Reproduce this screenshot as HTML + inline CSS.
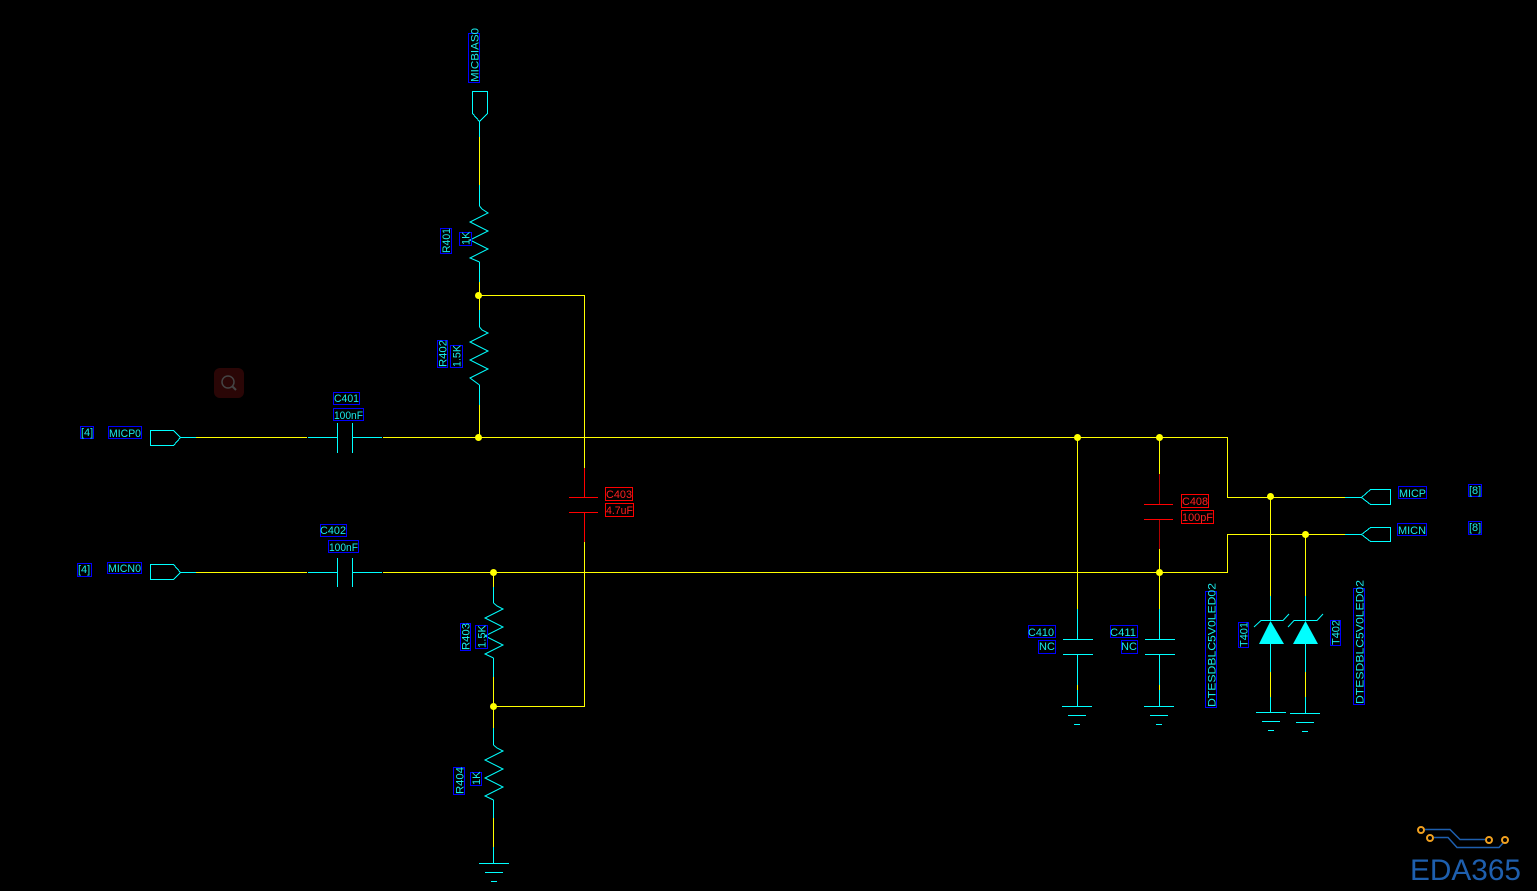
<!DOCTYPE html>
<html><head><meta charset="utf-8"><style>
html,body{margin:0;padding:0;background:#000;}
svg{display:block;}
text{font-family:"Liberation Sans",sans-serif;}
</style></head><body>
<svg width="1537" height="891" viewBox="0 0 1537 891" xmlns="http://www.w3.org/2000/svg">
<rect width="1537" height="891" fill="#000"/>
<g shape-rendering="crispEdges" fill="none" stroke-width="1">
<!-- yellow wires -->
<g stroke="#ffff00">
<path d="M479.5 137V185"/>
<path d="M479.5 282V310"/>
<path d="M479.5 405V437"/>
<path d="M478.5 295.5H584.5V468"/>
<path d="M584.5 542V706.5H493"/>
<path d="M196 437.5H307"/>
<path d="M383 437.5H1227.5V497.5H1345"/>
<path d="M196 572.5H307"/>
<path d="M383 572.5H1227.5V534.5H1345"/>
<path d="M1077.5 437V609"/>
<path d="M1159.5 437V474"/>
<path d="M1159.5 549V609"/>
<path d="M1077.5 685V690"/>
<path d="M1159.5 685V690"/>
<path d="M1270.5 497V596"/>
<path d="M1305.5 534V596"/>
<path d="M1270.5 672V697"/>
<path d="M1305.5 672V697"/>
<path d="M493.5 572V587"/>
<path d="M493.5 677V706"/>
<path d="M493.5 706V728"/>
<path d="M493.5 818V847"/>
</g>
<!-- cyan leads -->
<g stroke="#00ffff">
<path d="M479.5 121V137"/>
<path d="M479.5 185V206"/>
<path d="M479.5 262V282"/>
<path d="M479.5 310V327"/>
<path d="M479.5 385V405"/>
<path d="M180 437.5H196"/>
<path d="M180 572.5H196"/>
<path d="M308 437.5H337.5M337.5 423V453M352.5 423V453M352.5 437.5H382"/>
<path d="M308 572.5H337.5M337.5 558V587M352.5 558V587M352.5 572.5H382"/>
<path d="M1345 497.5H1361"/>
<path d="M1345 534.5H1361"/>
<path d="M1077.5 609V639.5M1063 639.5H1093M1063 654.5H1093M1077.5 654V685M1077.5 690V706.5M1062 706.5H1092M1068 715.5H1086M1074 724.5H1080"/>
<path d="M1159.5 609V639.5M1145 639.5H1175M1145 654.5H1175M1159.5 654V685M1159.5 690V706.5M1144 706.5H1174M1150 715.5H1168M1156 724.5H1162"/>
<path d="M1270.5 596V621M1270.5 644V672M1270.5 697V712.5M1256 712.5H1286M1262 721.5H1280M1268 730.5H1274"/>
<path d="M1305.5 596V621M1305.5 644V672M1305.5 697V713.5M1290 713.5H1320M1296 722.5H1314M1302 731.5H1308"/>
<path d="M493.5 587V603"/>
<path d="M493.5 658V677"/>
<path d="M493.5 728V745"/>
<path d="M493.5 800V818"/>
<path d="M493.5 847V863.5M479 863.5H509M485 872.5H503M491 881.5H497"/>
<!-- ports -->
<path d="M150.5 430.5H173.5L180.5 437.5L173.5 445.5H150.5Z"/>
<path d="M150.5 564.5H173.5L180.5 572.5L173.5 579.5H150.5Z"/>
<path d="M472.5 91.5H487.5V113.5L479.5 121.5L472.5 113.5Z"/>
<path d="M1361.5 497.5L1370.5 489.5H1390.5V504.5H1370.5Z"/>
<path d="M1361.5 534.5L1370.5 527.5H1390.5V541.5H1370.5Z"/>
</g>
</g>
<!-- resistor zigzags -->
<g fill="none" stroke="#00ffff" stroke-width="1">
<polyline points="479.5,206 482,209 488,213 470,222 488,231 470,240 488,249 470,258 479.5,262"/>
<polyline points="479.5,327 482,330 488,333 470,342 488,351 470,360 488,369 470,378 479.5,385"/>
<polyline points="493.5,603 497,606 503,609 485,618 503,627 485,636 503,645 485,654 493.5,658"/>
<polyline points="493.5,745 497,748 503,751 485,760 503,769 485,778 503,787 485,796 493.5,800"/>
<!-- diode bars -->
<polyline points="1254,627 1261,620.5 1283,620.5 1289,614"/>
<polyline points="1288,627 1294,620.5 1317,620.5 1323,614"/>
</g>
<polygon points="1270.5,621 1259,644 1284,644" fill="#00ffff"/>
<polygon points="1305.5,621 1293,644 1318,644" fill="#00ffff"/>
<!-- red caps -->
<g shape-rendering="crispEdges" fill="none">
<path stroke="#ff0000" d="M584.5 468V497.5M569 497.5H598M569 512.5H598M584.5 512V542"/>
<path stroke="#b00000" d="M1159.5 474V504M1159.5 519V549"/>
<path stroke="#ff0000" d="M1144 504.5H1173M1144 519.5H1173"/>
</g>
<!-- junctions -->
<g fill="#ffff00">
<circle cx="478.5" cy="295.5" r="3.5"/>
<circle cx="478.5" cy="437.5" r="3.5"/>
<circle cx="493.5" cy="572.5" r="3.5"/>
<circle cx="493.5" cy="706.5" r="3.5"/>
<circle cx="1077.5" cy="437.5" r="3.5"/>
<circle cx="1159.5" cy="437.5" r="3.5"/>
<circle cx="1159.5" cy="572.5" r="3.5"/>
<circle cx="1270.5" cy="496.5" r="3.5"/>
<circle cx="1305.5" cy="534.5" r="3.5"/>
</g>
<!-- label boxes -->
<g fill="none" stroke="#0000ff" stroke-width="1" shape-rendering="crispEdges">
<rect x="468.5" y="33.5" width="11" height="49"/>
<rect x="440.5" y="228.5" width="11" height="25"/>
<rect x="459.5" y="232.5" width="12" height="13"/>
<rect x="437.5" y="340.5" width="10" height="27"/>
<rect x="450.5" y="345.5" width="12" height="22"/>
<rect x="460.5" y="623.5" width="10" height="27"/>
<rect x="475.5" y="625.5" width="12" height="23"/>
<rect x="453.5" y="767.5" width="11" height="27"/>
<rect x="470.5" y="772.5" width="11" height="13"/>
<rect x="80.5" y="426.5" width="13" height="12"/>
<rect x="108.5" y="426.5" width="33" height="12"/>
<rect x="77.5" y="563.5" width="14" height="13"/>
<rect x="107.5" y="562.5" width="34" height="11"/>
<rect x="333.5" y="392.5" width="26" height="12"/>
<rect x="333.5" y="408.5" width="30" height="12"/>
<rect x="320.5" y="524.5" width="26" height="12"/>
<rect x="328.5" y="540.5" width="30" height="12"/>
<rect x="1028.5" y="625.5" width="27" height="12"/>
<rect x="1038.5" y="640.5" width="17" height="13"/>
<rect x="1110.5" y="625.5" width="27" height="12"/>
<rect x="1121.5" y="640.5" width="16" height="13"/>
<rect x="1205.5" y="591.5" width="11" height="116"/>
<rect x="1238.5" y="622.5" width="10" height="25"/>
<rect x="1330.5" y="620.5" width="10" height="25"/>
<rect x="1353.5" y="588.5" width="11" height="116"/>
<rect x="1398.5" y="486.5" width="28" height="12"/>
<rect x="1468.5" y="484.5" width="13" height="12"/>
<rect x="1397.5" y="523.5" width="29" height="12"/>
<rect x="1468.5" y="521.5" width="13" height="13"/>
</g>
<g fill="none" stroke="#ff0000" stroke-width="1" shape-rendering="crispEdges">
<rect x="605.5" y="487.5" width="27" height="13"/>
<rect x="605.5" y="503.5" width="28" height="13"/>
<rect x="1181.5" y="494.5" width="27" height="13"/>
<rect x="1181.5" y="510.5" width="32" height="13"/>
</g>
<!-- texts -->
<g fill="#19eaea" font-size="11">
<text transform="translate(478.5,82) rotate(-90)" textLength="54" lengthAdjust="spacingAndGlyphs">MICBIAS0</text>
<text transform="translate(450,253) rotate(-90)" textLength="25" lengthAdjust="spacingAndGlyphs">R401</text>
<text transform="translate(469.5,245) rotate(-90)">1K</text>
<text transform="translate(446.5,367) rotate(-90)" textLength="27" lengthAdjust="spacingAndGlyphs">R402</text>
<text transform="translate(460.5,367) rotate(-90)" textLength="22" lengthAdjust="spacingAndGlyphs">1.5K</text>
<text transform="translate(469.5,650) rotate(-90)" textLength="27" lengthAdjust="spacingAndGlyphs">R403</text>
<text transform="translate(485.5,648) rotate(-90)" textLength="23" lengthAdjust="spacingAndGlyphs">1.5K</text>
<text transform="translate(463.5,794) rotate(-90)" textLength="27" lengthAdjust="spacingAndGlyphs">R404</text>
<text transform="translate(480,785) rotate(-90)">1K</text>
<text x="81" y="436">[4]</text>
<text x="109" y="437" textLength="32" lengthAdjust="spacingAndGlyphs">MICP0</text>
<text x="78" y="573">[4]</text>
<text x="108" y="572" textLength="33" lengthAdjust="spacingAndGlyphs">MICN0</text>
<text x="334" y="402" textLength="25" lengthAdjust="spacingAndGlyphs">C401</text>
<text x="334" y="419" textLength="29" lengthAdjust="spacingAndGlyphs">100nF</text>
<text x="320" y="534" textLength="26" lengthAdjust="spacingAndGlyphs">C402</text>
<text x="329" y="551" textLength="29" lengthAdjust="spacingAndGlyphs">100nF</text>
<text x="1028" y="636" textLength="26" lengthAdjust="spacingAndGlyphs">C410</text>
<text x="1039" y="650">NC</text>
<text x="1110" y="636" textLength="26" lengthAdjust="spacingAndGlyphs">C411</text>
<text x="1121" y="650">NC</text>
<text transform="translate(1215.5,707) rotate(-90)" textLength="124" lengthAdjust="spacingAndGlyphs">DTESDBLC5V0LED02</text>
<text transform="translate(1247.5,647) rotate(-90)" textLength="25" lengthAdjust="spacingAndGlyphs">T401</text>
<text transform="translate(1339.5,645) rotate(-90)" textLength="25" lengthAdjust="spacingAndGlyphs">T402</text>
<text transform="translate(1363.5,704) rotate(-90)" textLength="124" lengthAdjust="spacingAndGlyphs">DTESDBLC5V0LED02</text>
<text x="1399" y="497" textLength="27" lengthAdjust="spacingAndGlyphs">MICP</text>
<text x="1469" y="494">[8]</text>
<text x="1398" y="534" textLength="28" lengthAdjust="spacingAndGlyphs">MICN</text>
<text x="1469" y="531">[8]</text>
</g>
<g fill="#ff2020" font-size="11">
<text x="606" y="498" textLength="26" lengthAdjust="spacingAndGlyphs">C403</text>
<text x="606" y="514" textLength="27" lengthAdjust="spacingAndGlyphs">4.7uF</text>
<text x="1182" y="505" textLength="26" lengthAdjust="spacingAndGlyphs">C408</text>
<text x="1182" y="521" textLength="31" lengthAdjust="spacingAndGlyphs">100pF</text>
</g>
<!-- search icon -->
<rect x="214" y="368" width="30" height="30" rx="6" fill="#2a0606"/>
<circle cx="228" cy="382" r="6" fill="none" stroke="#444" stroke-width="1.5"/>
<path d="M232 386L236 390" stroke="#444" stroke-width="2"/>
<!-- logo -->
<g fill="none" stroke="#1e5fae" stroke-width="1.5">
<path d="M1425 829.5H1450L1460 839.5H1485"/>
<path d="M1434 837.5H1448L1457 847.5H1499L1503 843"/>
</g>
<g fill="none" stroke="#f0a020" stroke-width="2">
<circle cx="1421" cy="830" r="3"/>
<circle cx="1430" cy="838" r="3"/>
<circle cx="1489" cy="840" r="3"/>
<circle cx="1505" cy="840" r="3"/>
</g>
<text x="1410" y="880" font-size="30" fill="#1e5fae" textLength="111" lengthAdjust="spacingAndGlyphs">EDA365</text>
</svg>
</body></html>
